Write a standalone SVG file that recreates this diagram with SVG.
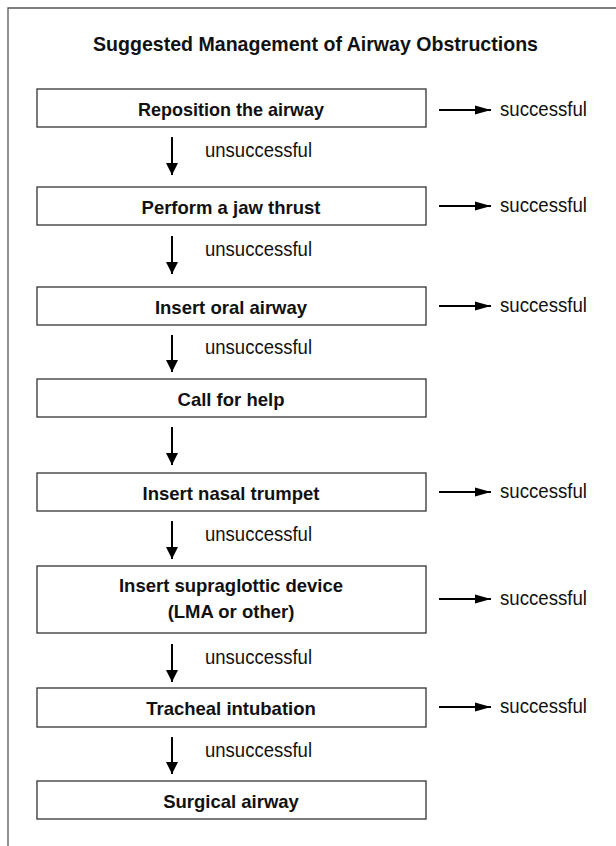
<svg xmlns="http://www.w3.org/2000/svg" width="616" height="846" viewBox="0 0 616 846">
<defs>
<marker id="ah" viewBox="0 0 12 14" refX="12" refY="7" markerWidth="12" markerHeight="14" markerUnits="userSpaceOnUse" orient="auto">
<path d="M0,1 L12,7 L0,13 z" fill="#000"/>
</marker>
<marker id="ahr" viewBox="0 0 16 10" refX="16" refY="5" markerWidth="16" markerHeight="10" markerUnits="userSpaceOnUse" orient="auto">
<path d="M0,0.5 L16,5 L0,9.5 z" fill="#000"/>
</marker>
</defs>
<style>
.box{fill:#fff;stroke:#333;stroke-width:1.3}
.lbl{font-family:"Liberation Sans",Arial,sans-serif;font-weight:bold;font-size:18.5px;fill:#111;text-anchor:middle}
.note{font-family:"Liberation Sans",Arial,sans-serif;font-size:20px;fill:#111}
.ttl{font-family:"Liberation Sans",Arial,sans-serif;font-weight:bold;font-size:20.5px;fill:#111}
.con{stroke:#000;stroke-width:2;fill:none}
</style>
<rect width="616" height="846" fill="#fff"/>
<path d="M8,846 V8 H616" fill="none" stroke="#555" stroke-width="1.3"/>
<text class="ttl" x="93" y="51" textLength="445" lengthAdjust="spacingAndGlyphs">Suggested Management of Airway Obstructions</text>
<g id="n1"><rect class="box" x="37" y="89" width="389" height="38"/><text class="lbl" x="231" y="116" textLength="186" lengthAdjust="spacingAndGlyphs">Reposition the airway</text></g>
<g id="n2"><rect class="box" x="37" y="187" width="389" height="38"/><text class="lbl" x="231" y="214">Perform a jaw thrust</text></g>
<g id="n3"><rect class="box" x="37" y="287" width="389" height="38"/><text class="lbl" x="231" y="314">Insert oral airway</text></g>
<g id="n4"><rect class="box" x="37" y="379" width="389" height="38"/><text class="lbl" x="231" y="406">Call for help</text></g>
<g id="n5"><rect class="box" x="37" y="473" width="389" height="38"/><text class="lbl" x="231" y="500">Insert nasal trumpet</text></g>
<g id="n6"><rect class="box" x="37" y="566" width="389" height="67"/><text class="lbl" x="231" y="592">Insert supraglottic device</text><text class="lbl" x="231" y="618">(LMA or other)</text></g>
<g id="n7"><rect class="box" x="37" y="688" width="389" height="39"/><text class="lbl" x="231" y="715">Tracheal intubation</text></g>
<g id="n8"><rect class="box" x="37" y="781" width="389" height="38"/><text class="lbl" x="231" y="808">Surgical airway</text></g>
<g id="connectors">
<line class="con" x1="172" y1="137" x2="172" y2="175" marker-end="url(#ah)"/>
<line class="con" x1="172" y1="236" x2="172" y2="274" marker-end="url(#ah)"/>
<line class="con" x1="172" y1="335" x2="172" y2="372" marker-end="url(#ah)"/>
<line class="con" x1="172" y1="427" x2="172" y2="465" marker-end="url(#ah)"/>
<line class="con" x1="172" y1="521" x2="172" y2="559" marker-end="url(#ah)"/>
<line class="con" x1="172" y1="644" x2="172" y2="682" marker-end="url(#ah)"/>
<line class="con" x1="172" y1="737" x2="172" y2="774" marker-end="url(#ah)"/>
<line class="con" x1="439" y1="110" x2="491" y2="110" marker-end="url(#ahr)"/>
<line class="con" x1="439" y1="206" x2="491" y2="206" marker-end="url(#ahr)"/>
<line class="con" x1="439" y1="306" x2="491" y2="306" marker-end="url(#ahr)"/>
<line class="con" x1="439" y1="492" x2="491" y2="492" marker-end="url(#ahr)"/>
<line class="con" x1="439" y1="599" x2="491" y2="599" marker-end="url(#ahr)"/>
<line class="con" x1="439" y1="707" x2="491" y2="707" marker-end="url(#ahr)"/>
<text class="note" x="205" y="157" textLength="107" lengthAdjust="spacingAndGlyphs">unsuccessful</text>
<text class="note" x="205" y="256" textLength="107" lengthAdjust="spacingAndGlyphs">unsuccessful</text>
<text class="note" x="205" y="354" textLength="107" lengthAdjust="spacingAndGlyphs">unsuccessful</text>
<text class="note" x="205" y="541" textLength="107" lengthAdjust="spacingAndGlyphs">unsuccessful</text>
<text class="note" x="205" y="664" textLength="107" lengthAdjust="spacingAndGlyphs">unsuccessful</text>
<text class="note" x="205" y="757" textLength="107" lengthAdjust="spacingAndGlyphs">unsuccessful</text>
<text class="note" x="500" y="116" textLength="87" lengthAdjust="spacingAndGlyphs">successful</text>
<text class="note" x="500" y="212" textLength="87" lengthAdjust="spacingAndGlyphs">successful</text>
<text class="note" x="500" y="312" textLength="87" lengthAdjust="spacingAndGlyphs">successful</text>
<text class="note" x="500" y="498" textLength="87" lengthAdjust="spacingAndGlyphs">successful</text>
<text class="note" x="500" y="605" textLength="87" lengthAdjust="spacingAndGlyphs">successful</text>
<text class="note" x="500" y="713" textLength="87" lengthAdjust="spacingAndGlyphs">successful</text>
</g>
</svg>
